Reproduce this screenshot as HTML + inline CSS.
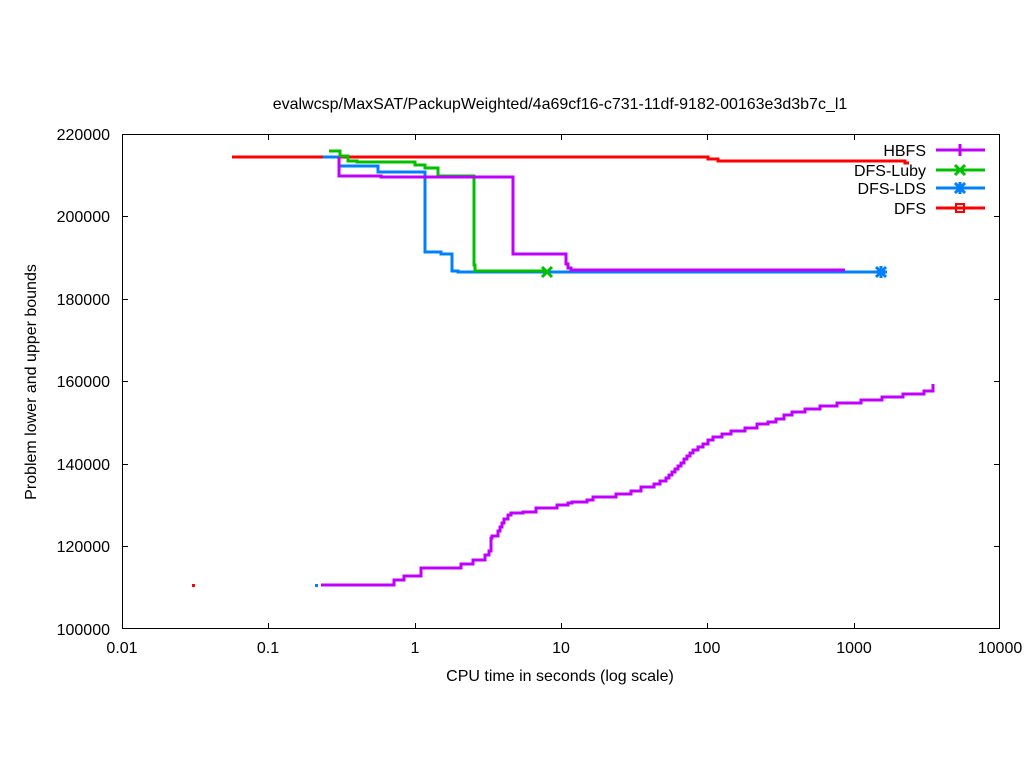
<!DOCTYPE html>
<html><head><meta charset="utf-8"><style>
html,body{margin:0;padding:0;background:#fff;}
text{font-family:"Liberation Sans",sans-serif;font-size:16px;fill:#000;}
</style></head><body>
<svg width="1024" height="768" viewBox="0 0 1024 768" xmlns="http://www.w3.org/2000/svg">
<rect width="1024" height="768" fill="#fff"/>
<text x="560" y="109" text-anchor="middle">evalwcsp/MaxSAT/PackupWeighted/4a69cf16-c731-11df-9182-00163e3d3b7c_l1</text>
<rect x="122.5" y="134.5" width="877" height="494" fill="none" stroke="#000" stroke-width="1"/>
<g stroke="#000" stroke-width="1">
<path d="M122 134.5h6M122 216.5h6M122 299.5h6M122 381.5h6M122 464.5h6M122 546.5h6M122 628.5h6M1000 134.5h-6M1000 216.5h-6M1000 299.5h-6M1000 381.5h-6M1000 464.5h-6M1000 546.5h-6M1000 628.5h-6"/>
<path d="M122.5 629v-6M268.5 629v-6M415.5 629v-6M561.5 629v-6M707.5 629v-6M854.5 629v-6M999.5 629v-6M122.5 134v6M268.5 134v6M415.5 134v6M561.5 134v6M707.5 134v6M854.5 134v6"/>
</g>
<g text-anchor="end">
<text x="110" y="140">220000</text><text x="110" y="222">200000</text><text x="110" y="305">180000</text><text x="110" y="387">160000</text><text x="110" y="470">140000</text><text x="110" y="552">120000</text><text x="110" y="635">100000</text>
</g>
<g text-anchor="middle">
<text x="122" y="653">0.01</text><text x="268" y="653">0.1</text><text x="415" y="653">1</text><text x="561" y="653">10</text><text x="707" y="653">100</text><text x="854" y="653">1000</text><text x="1000" y="653">10000</text>
<text x="560" y="681">CPU time in seconds (log scale)</text>
</g>
<text transform="translate(36,382) rotate(-90)" text-anchor="middle">Problem lower and upper bounds</text>
<g fill="none" stroke-width="3">
<path stroke="#ff0000" d="M232 157H708V159H718V161H905V163H909"/>
<path stroke="#0080ff" d="M323 157H339V166H378V172H425V252H441V254H452V271H458V272H880"/>
<path stroke="#00c000" d="M329 151H340V156H348V161H357V162H415V165H425V168H438V176H474V265H475V271H547"/>
<path stroke="#c000ff" d="M339 157V176H381V177H513V254H566V264H568V268H571V270H845"/>
<path stroke="#c000ff" d="M321 585H394V580H404V576H421V568H461V564H473V560H485V555H489V551H491V538H492V536H498V531H500V527H502V523H504V519H508V515H511V513H523V512H536V508H557V505H568V503H572V502H587V500H593V497H616V494H631V491H641V487H654V484H660V481H666V478H669V475H672V472H675V469H678V466H681V463H684V459H687V456H690V453H693V450H698V447H703V444H708V440H713V437H722V434H731V431H745V428H757V424H768V422H776V419H784V415H792V412H805V409H820V406H837V403H861V400H882V397H903V394H924V391H933V384"/>
</g>
<rect x="192" y="584" width="3" height="3" fill="#ff0000"/>
<rect x="315" y="584" width="3" height="3" fill="#0080ff"/>
<g stroke-width="3" fill="none">
<path stroke="#00c000" d="M542 267l10 10M552 267l-10 10"/>
<path stroke="#0080ff" d="M876 267l10 10M886 267l-10 10M881 266v12M875 272h12"/>
</g>
<g text-anchor="end">
<text x="926" y="156">HBFS</text><text x="926" y="176">DFS-Luby</text><text x="926" y="194">DFS-LDS</text><text x="926" y="214">DFS</text>
</g>
<g stroke-width="3" fill="none">
<path stroke="#c000ff" d="M936 150H985M960 144v12"/>
<path stroke="#00c000" d="M936 170H985M955 165l10 10M965 165l-10 10"/>
<path stroke="#0080ff" d="M936 188H985M955 183l10 10M965 183l-10 10M960 182v12"/>
<path stroke="#ff0000" d="M936 208H985"/>
<rect x="956" y="204" width="8" height="8" stroke="#ff0000" stroke-width="2"/>
</g>
</svg>
</body></html>
